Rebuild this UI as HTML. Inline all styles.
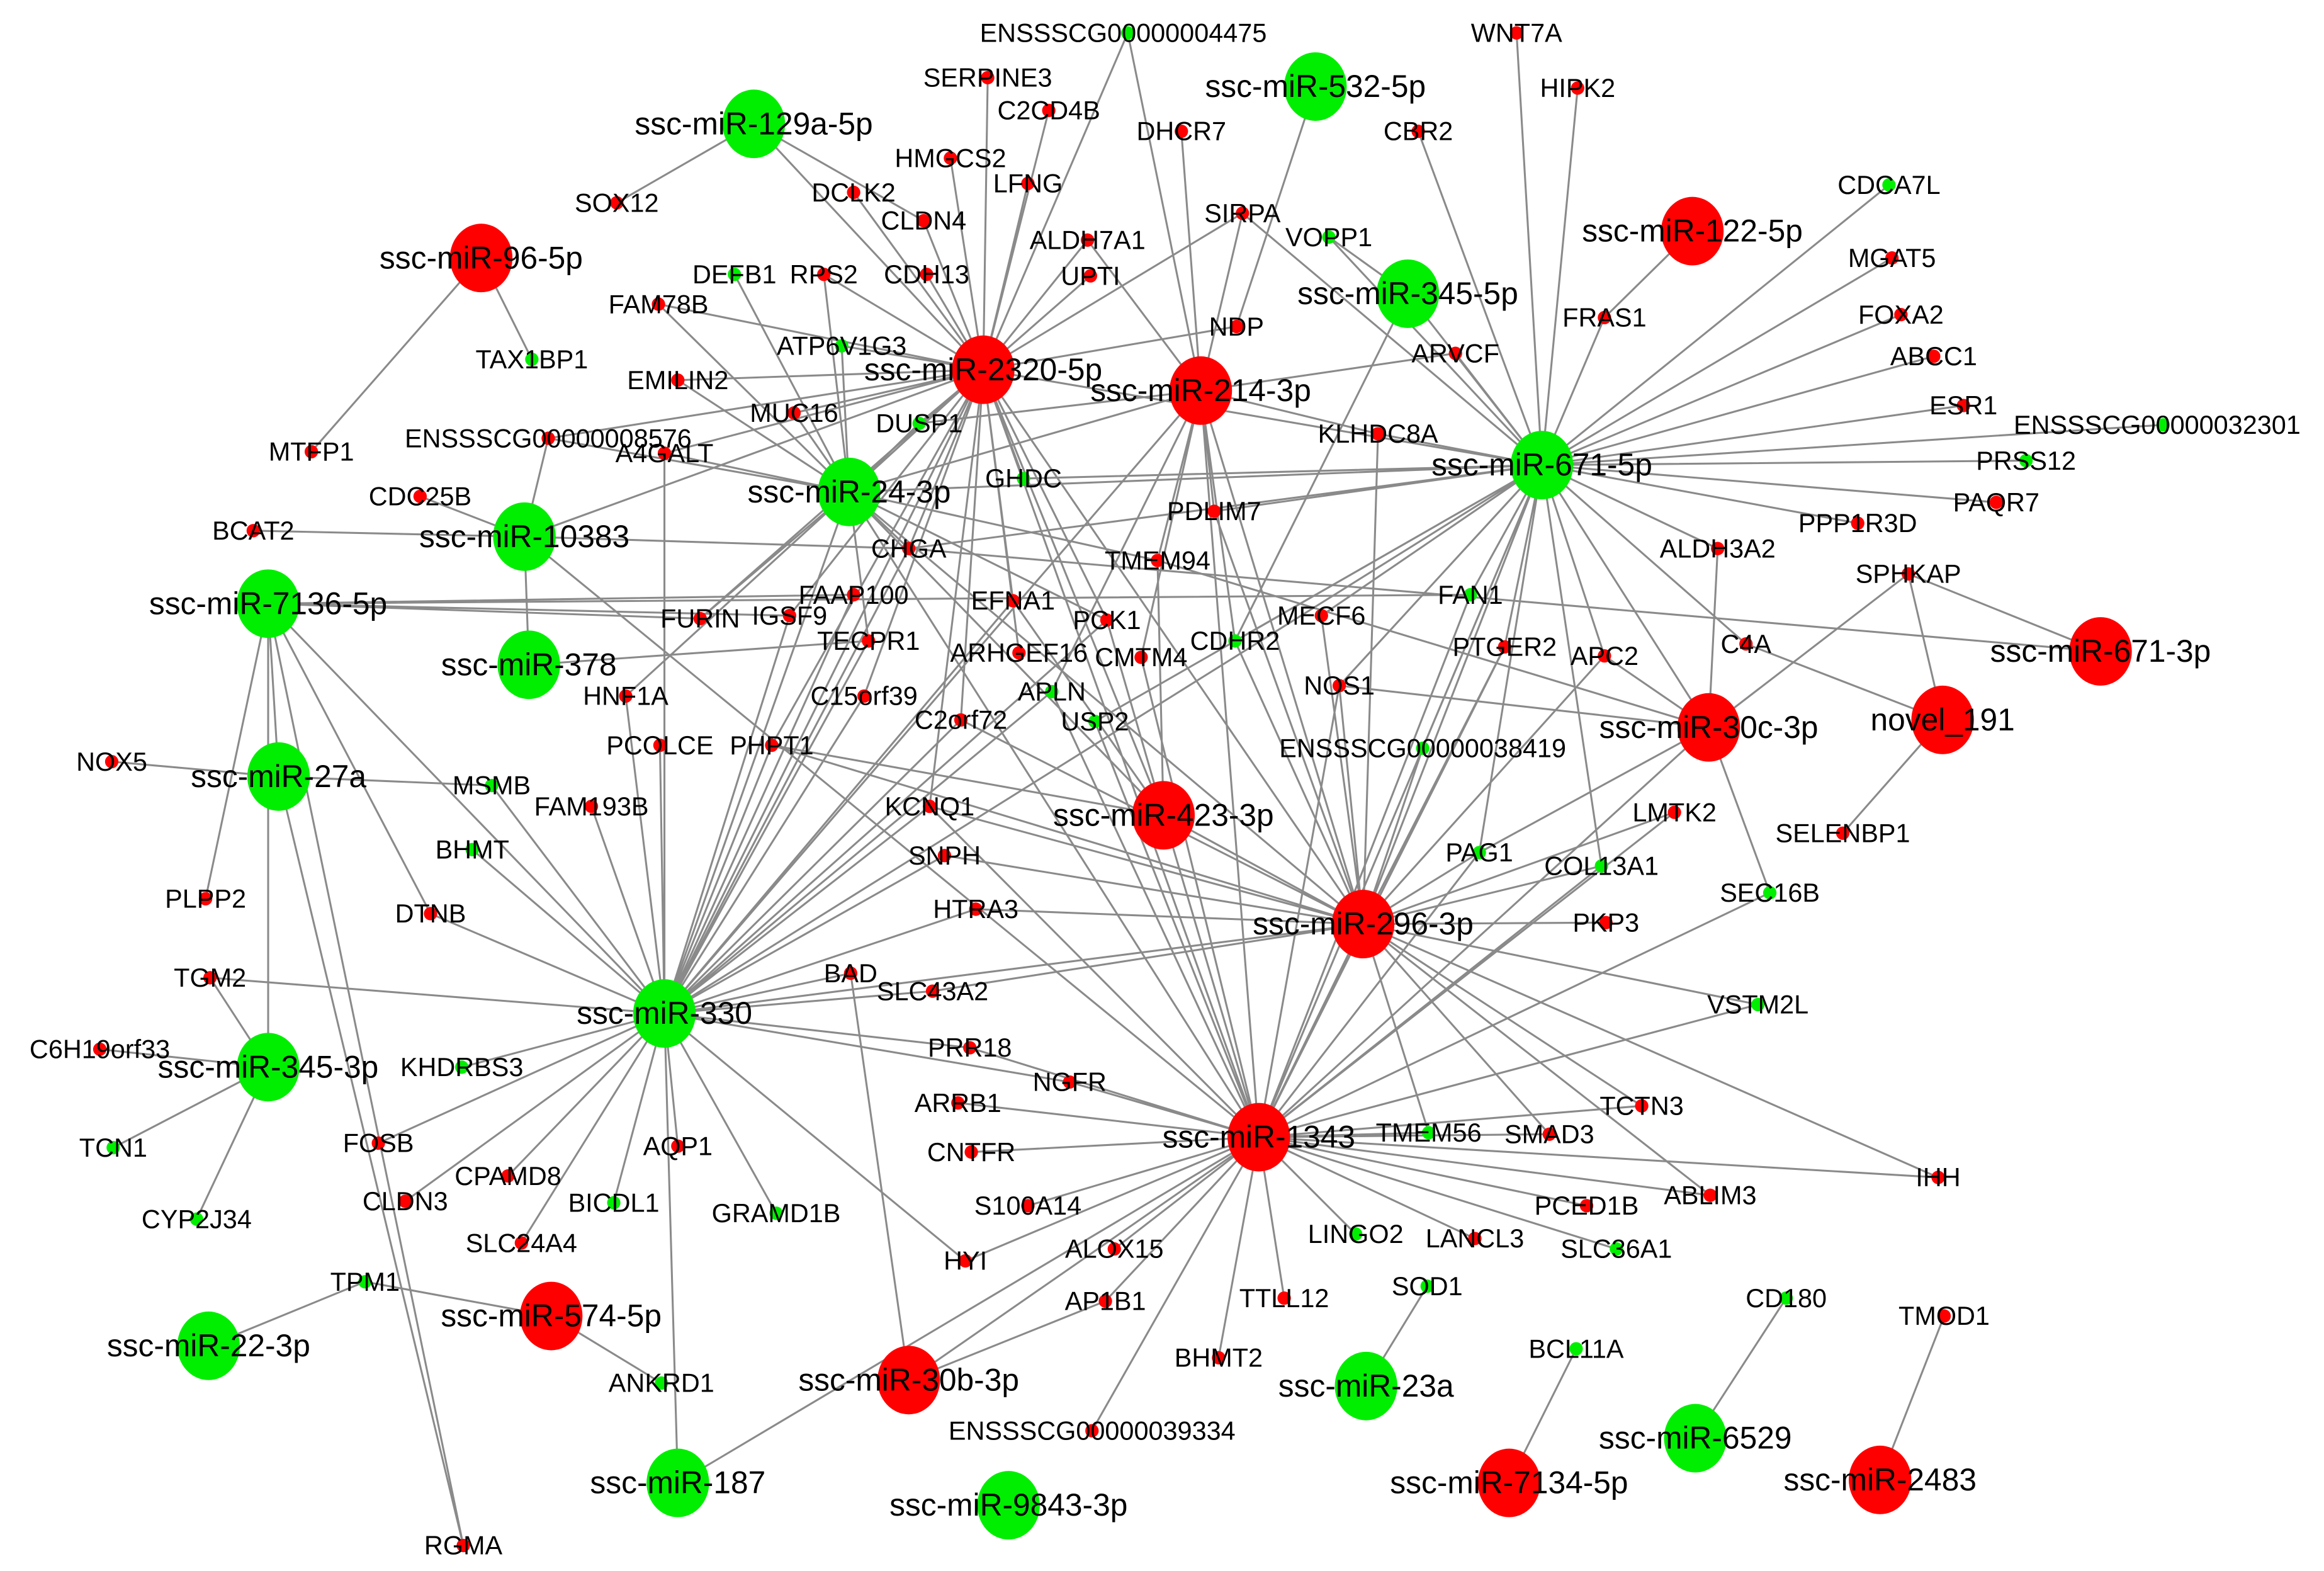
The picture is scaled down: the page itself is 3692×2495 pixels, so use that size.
<!DOCTYPE html>
<html><head><meta charset="utf-8"><style>
html,body{margin:0;padding:0;background:#fff;}
svg{display:block}
text{font-family:"Liberation Sans",Arial,sans-serif;fill:#000;text-anchor:middle}
.m{font-size:21px}
.g{font-size:17.5px}
</style></head><body>
<svg xmlns="http://www.w3.org/2000/svg" width="3692" height="2495" viewBox="0 0 1560 1054">
<rect width="1560" height="1054" fill="#fff"/>
<g fill="none" stroke="#8a8a8a" stroke-width="1.3">
<path d="M506 83L414 136M506 83L660 248M506 83L620 148M323 173L357 241M323 173L209 303M883 58L830 219M1136 155L1077 213"/>
<path d="M660 248L757 22M660 248L663 52M660 248L704 74M660 248L638 106M660 248L690 123M660 248L573 129M660 248L620 148M660 248L730 161M660 248L553 184M660 248L622 184M660 248L732 185M660 248L442 204M660 248L565 232M660 248L455 255M660 248L533 277M660 248L617 284M660 248L446 304M660 248L368 294M660 248L834 143M660 248L446 680M660 248L845 763M660 248L915 620M660 248L352 360M660 248L610 368M660 248L687 321M660 248L624 541M660 248L518 500M660 248L580 467M660 248L530 413M660 248L680 403M660 248L743 416M660 248L420 467M660 248L1035 312M660 248L684 438M660 248L645 483M660 248L470 415M660 248L830 219M660 248L781 547"/>
<path d="M806 262L793 88M806 262L834 143M806 262L925 291M806 262L977 237M806 262L570 330M806 262L446 680M806 262L845 763M806 262L915 620M806 262L777 376M806 262L815 343M806 262L829 430M806 262L617 284M806 262L757 22M806 262L730 161M806 262L766 441M806 262L706 464"/>
<path d="M1035 312L1018 22M1035 312L1059 59M1035 312L952 88M1035 312L1268 124M1035 312L1270 173M1035 312L1276 211M1035 312L1077 213M1035 312L1298 239M1035 312L1318 272M1035 312L1452 285M1035 312L1360 309M1035 312L1340 337M1035 312L1247 351M1035 312L1153 368M1035 312L834 143M1035 312L892 159M1035 312L945 197M1035 312L977 237M1035 312L925 291M1035 312L815 343M1035 312L687 321M1035 312L570 330M1035 312L987 399M1035 312L1010 434M1035 312L1077 440M1035 312L1172 432M1035 312L1147 488M1035 312L915 620M1035 312L845 763M1035 312L446 680M1035 312L993 572M1035 312L1075 581M1035 312L955 502M1035 312L899 460M1035 312L829 430M1035 312L887 413M1035 312L610 368M1035 312L735 484"/>
<path d="M945 197L892 159M945 197L829 430"/>
<path d="M570 330L533 277M570 330L617 284M570 330L446 304M570 330L455 255M570 330L442 204M570 330L493 184M570 330L565 232M570 330L446 680M570 330L845 763M570 330L915 620M570 330L781 547M570 330L610 368M570 330L583 430M570 330L777 376M570 330L743 416M570 330L368 294M570 330L553 184M570 330L470 415"/>
<path d="M352 360L368 294M352 360L282 333M352 360L355 446M352 360L170 356M352 360L845 763M352 360L610 368"/>
<path d="M180 405L138 603M180 405L289 613M180 405L311 1037M180 405L446 680M180 405L573 399M180 405L470 415M180 405L987 399M180 405L180 716M180 405L530 413"/>
<path d="M187 521L75 511M187 521L330 527M187 521L311 1037M187 521L180 405M355 446L583 430"/>
<path d="M446 680L397 541M446 680L330 527M446 680L317 570M446 680L289 613M446 680L141 656M446 680L310 716M446 680L254 767M446 680L272 806M446 680L341 789M446 680L350 834M446 680L412 807M446 680L455 769M446 680L521 814M446 680L648 846M446 680L420 467M446 680L443 500M446 680L518 500M446 680L580 467M446 680L530 413M446 680L680 403M446 680L571 653M446 680L626 665M446 680L718 726M446 680L651 703M446 680L624 541M446 680L634 574M446 680L655 610M446 680L455 995M446 680L645 483M446 680L706 464M446 680L610 368M446 680L583 430M446 680L743 416M446 680L446 304M446 680L915 620M446 680L573 399"/>
<path d="M180 716L67 704M180 716L76 770M180 716L132 818M180 716L141 656M140 903L245 860M370 883L245 860M370 883L444 928M610 926L571 653M610 926L845 763M610 926L742 873M455 995L845 763"/>
<path d="M845 763L643 740M845 763L652 773M845 763L690 809M845 763L748 838M845 763L742 873M845 763L648 846M845 763L862 871M845 763L818 911M845 763L910 828M845 763L990 831M845 763L1085 838M845 763L1065 809M845 763L1148 802M845 763L959 760M845 763L1040 761M845 763L1301 790M845 763L1102 742M845 763L915 620M845 763L1147 488M845 763L993 572M845 763L1075 581M845 763L1188 599M845 763L1180 674M845 763L733 960M845 763L651 703M845 763L718 726M845 763L766 441M845 763L706 464M845 763L735 484M845 763L624 541M845 763L899 460M845 763L1124 545M845 763L987 399M845 763L781 547M845 763L1010 434"/>
<path d="M915 620L1078 619M915 620L1180 674M915 620L1102 742M915 620L1040 761M915 620L959 760M915 620L1301 790M915 620L1124 545M915 620L1075 581M915 620L993 572M915 620L955 502M915 620L899 460M915 620L781 547M915 620L624 541M915 620L634 574M915 620L655 610M915 620L626 665M915 620L829 430M915 620L815 343M915 620L887 413M915 620L1077 440M915 620L645 483M915 620L518 500M915 620L1148 802M915 620L1010 434M915 620L925 291"/>
<path d="M1147 488L1281 385M1147 488L1153 368M1147 488L1188 599M1147 488L993 572M1147 488L1077 440M1147 488L899 460M1147 488L777 376M1304 483L1172 432M1304 483L1281 385M1304 483L1237 559M1410 437L1281 385M1410 437L610 368"/>
<path d="M781 547L743 416M781 547L777 376M781 547L518 500M781 547L680 403M917 930L958 863M1138 965L1199 871M1013 995L1058 905M1262 993L1305 883"/>
</g>
<g>
<ellipse cx="506" cy="83" rx="21" ry="23" fill="#00ee00"/><text class="m" x="506" y="90">ssc-miR-129a-5p</text>
<ellipse cx="883" cy="58" rx="21" ry="23" fill="#00ee00"/><text class="m" x="883" y="65">ssc-miR-532-5p</text>
<ellipse cx="945" cy="197" rx="21" ry="23" fill="#00ee00"/><text class="m" x="945" y="204">ssc-miR-345-5p</text>
<ellipse cx="1035" cy="312" rx="21" ry="23" fill="#00ee00"/><text class="m" x="1035" y="319">ssc-miR-671-5p</text>
<ellipse cx="570" cy="330" rx="21" ry="23" fill="#00ee00"/><text class="m" x="570" y="337">ssc-miR-24-3p</text>
<ellipse cx="352" cy="360" rx="21" ry="23" fill="#00ee00"/><text class="m" x="352" y="367">ssc-miR-10383</text>
<ellipse cx="180" cy="405" rx="21" ry="23" fill="#00ee00"/><text class="m" x="180" y="412">ssc-miR-7136-5p</text>
<ellipse cx="355" cy="446" rx="21" ry="23" fill="#00ee00"/><text class="m" x="355" y="453">ssc-miR-378</text>
<ellipse cx="187" cy="521" rx="21" ry="23" fill="#00ee00"/><text class="m" x="187" y="528">ssc-miR-27a</text>
<ellipse cx="446" cy="680" rx="21" ry="23" fill="#00ee00"/><text class="m" x="446" y="687">ssc-miR-330</text>
<ellipse cx="180" cy="716" rx="21" ry="23" fill="#00ee00"/><text class="m" x="180" y="723">ssc-miR-345-3p</text>
<ellipse cx="140" cy="903" rx="21" ry="23" fill="#00ee00"/><text class="m" x="140" y="910">ssc-miR-22-3p</text>
<ellipse cx="455" cy="995" rx="21" ry="23" fill="#00ee00"/><text class="m" x="455" y="1002">ssc-miR-187</text>
<ellipse cx="677" cy="1010" rx="21" ry="23" fill="#00ee00"/><text class="m" x="677" y="1017">ssc-miR-9843-3p</text>
<ellipse cx="917" cy="930" rx="21" ry="23" fill="#00ee00"/><text class="m" x="917" y="937">ssc-miR-23a</text>
<ellipse cx="1138" cy="965" rx="21" ry="23" fill="#00ee00"/><text class="m" x="1138" y="972">ssc-miR-6529</text>
<ellipse cx="323" cy="173" rx="21" ry="23" fill="#ff0000"/><text class="m" x="323" y="180">ssc-miR-96-5p</text>
<ellipse cx="1136" cy="155" rx="21" ry="23" fill="#ff0000"/><text class="m" x="1136" y="162">ssc-miR-122-5p</text>
<ellipse cx="660" cy="248" rx="21" ry="23" fill="#ff0000"/><text class="m" x="660" y="255">ssc-miR-2320-5p</text>
<ellipse cx="806" cy="262" rx="21" ry="23" fill="#ff0000"/><text class="m" x="806" y="269">ssc-miR-214-3p</text>
<ellipse cx="1410" cy="437" rx="21" ry="23" fill="#ff0000"/><text class="m" x="1410" y="444">ssc-miR-671-3p</text>
<ellipse cx="1304" cy="483" rx="21" ry="23" fill="#ff0000"/><text class="m" x="1304" y="490">novel_191</text>
<ellipse cx="1147" cy="488" rx="21" ry="23" fill="#ff0000"/><text class="m" x="1147" y="495">ssc-miR-30c-3p</text>
<ellipse cx="781" cy="547" rx="21" ry="23" fill="#ff0000"/><text class="m" x="781" y="554">ssc-miR-423-3p</text>
<ellipse cx="915" cy="620" rx="21" ry="23" fill="#ff0000"/><text class="m" x="915" y="627">ssc-miR-296-3p</text>
<ellipse cx="845" cy="763" rx="21" ry="23" fill="#ff0000"/><text class="m" x="845" y="770">ssc-miR-1343</text>
<ellipse cx="370" cy="883" rx="21" ry="23" fill="#ff0000"/><text class="m" x="370" y="890">ssc-miR-574-5p</text>
<ellipse cx="610" cy="926" rx="21" ry="23" fill="#ff0000"/><text class="m" x="610" y="933">ssc-miR-30b-3p</text>
<ellipse cx="1013" cy="995" rx="21" ry="23" fill="#ff0000"/><text class="m" x="1013" y="1002">ssc-miR-7134-5p</text>
<ellipse cx="1262" cy="993" rx="21" ry="23" fill="#ff0000"/><text class="m" x="1262" y="1000">ssc-miR-2483</text>
<circle cx="757" cy="22" r="4.5" fill="#00ee00"/><text class="g" x="754" y="28">ENSSSCG00000004475</text>
<circle cx="1018" cy="22" r="4.5" fill="#ff0000"/><text class="g" x="1018" y="28">WNT7A</text>
<circle cx="663" cy="52" r="4.5" fill="#ff0000"/><text class="g" x="663" y="58">SERPINE3</text>
<circle cx="1059" cy="59" r="4.5" fill="#ff0000"/><text class="g" x="1059" y="65">HIPK2</text>
<circle cx="704" cy="74" r="4.5" fill="#ff0000"/><text class="g" x="704" y="80">C2CD4B</text>
<circle cx="793" cy="88" r="4.5" fill="#ff0000"/><text class="g" x="793" y="94">DHCR7</text>
<circle cx="952" cy="88" r="4.5" fill="#ff0000"/><text class="g" x="952" y="94">CBR2</text>
<circle cx="414" cy="136" r="4.5" fill="#ff0000"/><text class="g" x="414" y="142">SOX12</text>
<circle cx="638" cy="106" r="4.5" fill="#ff0000"/><text class="g" x="638" y="112">HMGCS2</text>
<circle cx="690" cy="123" r="4.5" fill="#ff0000"/><text class="g" x="690" y="129">LFNG</text>
<circle cx="1268" cy="124" r="4.5" fill="#00ee00"/><text class="g" x="1268" y="130">CDCA7L</text>
<circle cx="573" cy="129" r="4.5" fill="#ff0000"/><text class="g" x="573" y="135">DCLK2</text>
<circle cx="620" cy="148" r="4.5" fill="#ff0000"/><text class="g" x="620" y="154">CLDN4</text>
<circle cx="834" cy="143" r="4.5" fill="#ff0000"/><text class="g" x="834" y="149">SIRPA</text>
<circle cx="892" cy="159" r="4.5" fill="#00ee00"/><text class="g" x="892" y="165">VOPP1</text>
<circle cx="730" cy="161" r="4.5" fill="#ff0000"/><text class="g" x="730" y="167">ALDH7A1</text>
<circle cx="1270" cy="173" r="4.5" fill="#ff0000"/><text class="g" x="1270" y="179">MGAT5</text>
<circle cx="493" cy="184" r="4.5" fill="#00ee00"/><text class="g" x="493" y="190">DEFB1</text>
<circle cx="553" cy="184" r="4.5" fill="#ff0000"/><text class="g" x="553" y="190">RPS2</text>
<circle cx="622" cy="184" r="4.5" fill="#ff0000"/><text class="g" x="622" y="190">CDH13</text>
<circle cx="732" cy="185" r="4.5" fill="#ff0000"/><text class="g" x="732" y="191">UPTI</text>
<circle cx="442" cy="204" r="4.5" fill="#ff0000"/><text class="g" x="442" y="210">FAM78B</text>
<circle cx="1077" cy="213" r="4.5" fill="#ff0000"/><text class="g" x="1077" y="219">FRAS1</text>
<circle cx="1276" cy="211" r="4.5" fill="#ff0000"/><text class="g" x="1276" y="217">FOXA2</text>
<circle cx="830" cy="219" r="4.5" fill="#ff0000"/><text class="g" x="830" y="225">NDP</text>
<circle cx="357" cy="241" r="4.5" fill="#00ee00"/><text class="g" x="357" y="247">TAX1BP1</text>
<circle cx="565" cy="232" r="4.5" fill="#00ee00"/><text class="g" x="565" y="238">ATP6V1G3</text>
<circle cx="977" cy="237" r="4.5" fill="#ff0000"/><text class="g" x="977" y="243">ARVCF</text>
<circle cx="1298" cy="239" r="4.5" fill="#ff0000"/><text class="g" x="1298" y="245">ABCC1</text>
<circle cx="455" cy="255" r="4.5" fill="#ff0000"/><text class="g" x="455" y="261">EMILIN2</text>
<circle cx="533" cy="277" r="4.5" fill="#ff0000"/><text class="g" x="533" y="283">MUC16</text>
<circle cx="1318" cy="272" r="4.5" fill="#ff0000"/><text class="g" x="1318" y="278">ESR1</text>
<circle cx="1452" cy="285" r="4.5" fill="#00ee00"/><text class="g" x="1448" y="291">ENSSSCG00000032301</text>
<circle cx="617" cy="284" r="4.5" fill="#00ee00"/><text class="g" x="617" y="290">DUSP1</text>
<circle cx="368" cy="294" r="4.5" fill="#ff0000"/><text class="g" x="368" y="300">ENSSSCG00000008576</text>
<circle cx="446" cy="304" r="4.5" fill="#ff0000"/><text class="g" x="446" y="310">A4GALT</text>
<circle cx="209" cy="303" r="4.5" fill="#ff0000"/><text class="g" x="209" y="309">MTFP1</text>
<circle cx="925" cy="291" r="4.5" fill="#ff0000"/><text class="g" x="925" y="297">KLHDC8A</text>
<circle cx="1360" cy="309" r="4.5" fill="#00ee00"/><text class="g" x="1360" y="315">PRSS12</text>
<circle cx="687" cy="321" r="4.5" fill="#00ee00"/><text class="g" x="687" y="327">GHDC</text>
<circle cx="282" cy="333" r="4.5" fill="#ff0000"/><text class="g" x="282" y="339">CDC25B</text>
<circle cx="1340" cy="337" r="4.5" fill="#ff0000"/><text class="g" x="1340" y="343">PAQR7</text>
<circle cx="815" cy="343" r="4.5" fill="#ff0000"/><text class="g" x="815" y="349">PDLIM7</text>
<circle cx="1247" cy="351" r="4.5" fill="#ff0000"/><text class="g" x="1247" y="357">PPP1R3D</text>
<circle cx="170" cy="356" r="4.5" fill="#ff0000"/><text class="g" x="170" y="362">BCAT2</text>
<circle cx="610" cy="368" r="4.5" fill="#ff0000"/><text class="g" x="610" y="374">CHGA</text>
<circle cx="1153" cy="368" r="4.5" fill="#ff0000"/><text class="g" x="1153" y="374">ALDH3A2</text>
<circle cx="777" cy="376" r="4.5" fill="#ff0000"/><text class="g" x="777" y="382">TMEM94</text>
<circle cx="1281" cy="385" r="4.5" fill="#ff0000"/><text class="g" x="1281" y="391">SPHKAP</text>
<circle cx="573" cy="399" r="4.5" fill="#ff0000"/><text class="g" x="573" y="405">FAAP100</text>
<circle cx="987" cy="399" r="4.5" fill="#00ee00"/><text class="g" x="987" y="405">FAN1</text>
<circle cx="470" cy="415" r="4.5" fill="#ff0000"/><text class="g" x="470" y="421">FURIN</text>
<circle cx="530" cy="413" r="4.5" fill="#ff0000"/><text class="g" x="530" y="419">IGSF9</text>
<circle cx="680" cy="403" r="4.5" fill="#ff0000"/><text class="g" x="680" y="409">EFNA1</text>
<circle cx="743" cy="416" r="4.5" fill="#ff0000"/><text class="g" x="743" y="422">PCK1</text>
<circle cx="887" cy="413" r="4.5" fill="#ff0000"/><text class="g" x="887" y="419">MECF6</text>
<circle cx="583" cy="430" r="4.5" fill="#ff0000"/><text class="g" x="583" y="436">TECPR1</text>
<circle cx="684" cy="438" r="4.5" fill="#ff0000"/><text class="g" x="684" y="444">ARHGEF16</text>
<circle cx="829" cy="430" r="4.5" fill="#00ee00"/><text class="g" x="829" y="436">CDHR2</text>
<circle cx="766" cy="441" r="4.5" fill="#ff0000"/><text class="g" x="766" y="447">CMTM4</text>
<circle cx="1010" cy="434" r="4.5" fill="#ff0000"/><text class="g" x="1010" y="440">PTGER2</text>
<circle cx="1077" cy="440" r="4.5" fill="#ff0000"/><text class="g" x="1077" y="446">APC2</text>
<circle cx="1172" cy="432" r="4.5" fill="#ff0000"/><text class="g" x="1172" y="438">C4A</text>
<circle cx="420" cy="467" r="4.5" fill="#ff0000"/><text class="g" x="420" y="473">HNF1A</text>
<circle cx="580" cy="467" r="4.5" fill="#ff0000"/><text class="g" x="580" y="473">C15orf39</text>
<circle cx="706" cy="464" r="4.5" fill="#00ee00"/><text class="g" x="706" y="470">APLN</text>
<circle cx="899" cy="460" r="4.5" fill="#ff0000"/><text class="g" x="899" y="466">NOS1</text>
<circle cx="735" cy="484" r="4.5" fill="#00ee00"/><text class="g" x="735" y="490">USP2</text>
<circle cx="645" cy="483" r="4.5" fill="#ff0000"/><text class="g" x="645" y="489">C2orf72</text>
<circle cx="955" cy="502" r="4.5" fill="#00ee00"/><text class="g" x="955" y="508">ENSSSCG00000038419</text>
<circle cx="443" cy="500" r="4.5" fill="#ff0000"/><text class="g" x="443" y="506">PCOLCE</text>
<circle cx="518" cy="500" r="4.5" fill="#ff0000"/><text class="g" x="518" y="506">PHPT1</text>
<circle cx="75" cy="511" r="4.5" fill="#ff0000"/><text class="g" x="75" y="517">NOX5</text>
<circle cx="330" cy="527" r="4.5" fill="#00ee00"/><text class="g" x="330" y="533">MSMB</text>
<circle cx="397" cy="541" r="4.5" fill="#ff0000"/><text class="g" x="397" y="547">FAM193B</text>
<circle cx="624" cy="541" r="4.5" fill="#ff0000"/><text class="g" x="624" y="547">KCNQ1</text>
<circle cx="1124" cy="545" r="4.5" fill="#ff0000"/><text class="g" x="1124" y="551">LMTK2</text>
<circle cx="1237" cy="559" r="4.5" fill="#ff0000"/><text class="g" x="1237" y="565">SELENBP1</text>
<circle cx="634" cy="574" r="4.5" fill="#ff0000"/><text class="g" x="634" y="580">SNPH</text>
<circle cx="317" cy="570" r="4.5" fill="#00ee00"/><text class="g" x="317" y="576">BHMT</text>
<circle cx="993" cy="572" r="4.5" fill="#00ee00"/><text class="g" x="993" y="578">PAG1</text>
<circle cx="1075" cy="581" r="4.5" fill="#00ee00"/><text class="g" x="1075" y="587">COL13A1</text>
<circle cx="289" cy="613" r="4.5" fill="#ff0000"/><text class="g" x="289" y="619">DTNB</text>
<circle cx="138" cy="603" r="4.5" fill="#ff0000"/><text class="g" x="138" y="609">PLPP2</text>
<circle cx="655" cy="610" r="4.5" fill="#ff0000"/><text class="g" x="655" y="616">HTRA3</text>
<circle cx="1188" cy="599" r="4.5" fill="#00ee00"/><text class="g" x="1188" y="605">SEC16B</text>
<circle cx="1078" cy="619" r="4.5" fill="#ff0000"/><text class="g" x="1078" y="625">PKP3</text>
<circle cx="571" cy="653" r="4.5" fill="#ff0000"/><text class="g" x="571" y="659">BAD</text>
<circle cx="141" cy="656" r="4.5" fill="#ff0000"/><text class="g" x="141" y="662">TGM2</text>
<circle cx="626" cy="665" r="4.5" fill="#ff0000"/><text class="g" x="626" y="671">SLC43A2</text>
<circle cx="1180" cy="674" r="4.5" fill="#00ee00"/><text class="g" x="1180" y="680">VSTM2L</text>
<circle cx="67" cy="704" r="4.5" fill="#ff0000"/><text class="g" x="67" y="710">C6H19orf33</text>
<circle cx="310" cy="716" r="4.5" fill="#00ee00"/><text class="g" x="310" y="722">KHDRBS3</text>
<circle cx="651" cy="703" r="4.5" fill="#ff0000"/><text class="g" x="651" y="709">PRR18</text>
<circle cx="718" cy="726" r="4.5" fill="#ff0000"/><text class="g" x="718" y="732">NGFR</text>
<circle cx="643" cy="740" r="4.5" fill="#ff0000"/><text class="g" x="643" y="746">ARRB1</text>
<circle cx="1102" cy="742" r="4.5" fill="#ff0000"/><text class="g" x="1102" y="748">TCTN3</text>
<circle cx="959" cy="760" r="4.5" fill="#00ee00"/><text class="g" x="959" y="766">TMEM56</text>
<circle cx="1040" cy="761" r="4.5" fill="#ff0000"/><text class="g" x="1040" y="767">SMAD3</text>
<circle cx="76" cy="770" r="4.5" fill="#00ee00"/><text class="g" x="76" y="776">TCN1</text>
<circle cx="254" cy="767" r="4.5" fill="#ff0000"/><text class="g" x="254" y="773">FOSB</text>
<circle cx="455" cy="769" r="4.5" fill="#ff0000"/><text class="g" x="455" y="775">AQP1</text>
<circle cx="652" cy="773" r="4.5" fill="#ff0000"/><text class="g" x="652" y="779">CNTFR</text>
<circle cx="341" cy="789" r="4.5" fill="#ff0000"/><text class="g" x="341" y="795">CPAMD8</text>
<circle cx="1301" cy="790" r="4.5" fill="#ff0000"/><text class="g" x="1301" y="796">IHH</text>
<circle cx="1148" cy="802" r="4.5" fill="#ff0000"/><text class="g" x="1148" y="808">ABLIM3</text>
<circle cx="272" cy="806" r="4.5" fill="#ff0000"/><text class="g" x="272" y="812">CLDN3</text>
<circle cx="412" cy="807" r="4.5" fill="#00ee00"/><text class="g" x="412" y="813">BICDL1</text>
<circle cx="690" cy="809" r="4.5" fill="#ff0000"/><text class="g" x="690" y="815">S100A14</text>
<circle cx="1065" cy="809" r="4.5" fill="#ff0000"/><text class="g" x="1065" y="815">PCED1B</text>
<circle cx="521" cy="814" r="4.5" fill="#00ee00"/><text class="g" x="521" y="820">GRAMD1B</text>
<circle cx="1085" cy="838" r="4.5" fill="#00ee00"/><text class="g" x="1085" y="844">SLC36A1</text>
<circle cx="132" cy="818" r="4.5" fill="#00ee00"/><text class="g" x="132" y="824">CYP2J34</text>
<circle cx="910" cy="828" r="4.5" fill="#00ee00"/><text class="g" x="910" y="834">LINGO2</text>
<circle cx="990" cy="831" r="4.5" fill="#ff0000"/><text class="g" x="990" y="837">LANCL3</text>
<circle cx="350" cy="834" r="4.5" fill="#ff0000"/><text class="g" x="350" y="840">SLC24A4</text>
<circle cx="748" cy="838" r="4.5" fill="#ff0000"/><text class="g" x="748" y="844">ALOX15</text>
<circle cx="648" cy="846" r="4.5" fill="#ff0000"/><text class="g" x="648" y="852">HYI</text>
<circle cx="245" cy="860" r="4.5" fill="#00ee00"/><text class="g" x="245" y="866">TPM1</text>
<circle cx="958" cy="863" r="4.5" fill="#00ee00"/><text class="g" x="958" y="869">SOD1</text>
<circle cx="862" cy="871" r="4.5" fill="#ff0000"/><text class="g" x="862" y="877">TTLL12</text>
<circle cx="1199" cy="871" r="4.5" fill="#00ee00"/><text class="g" x="1199" y="877">CD180</text>
<circle cx="742" cy="873" r="4.5" fill="#ff0000"/><text class="g" x="742" y="879">AP1B1</text>
<circle cx="1305" cy="883" r="4.5" fill="#ff0000"/><text class="g" x="1305" y="889">TMOD1</text>
<circle cx="818" cy="911" r="4.5" fill="#ff0000"/><text class="g" x="818" y="917">BHMT2</text>
<circle cx="1058" cy="905" r="4.5" fill="#00ee00"/><text class="g" x="1058" y="911">BCL11A</text>
<circle cx="444" cy="928" r="4.5" fill="#00ee00"/><text class="g" x="444" y="934">ANKRD1</text>
<circle cx="733" cy="960" r="4.5" fill="#ff0000"/><text class="g" x="733" y="966">ENSSSCG00000039334</text>
<circle cx="311" cy="1037" r="4.5" fill="#ff0000"/><text class="g" x="311" y="1043">RGMA</text>
</g>
</svg>
</body></html>
